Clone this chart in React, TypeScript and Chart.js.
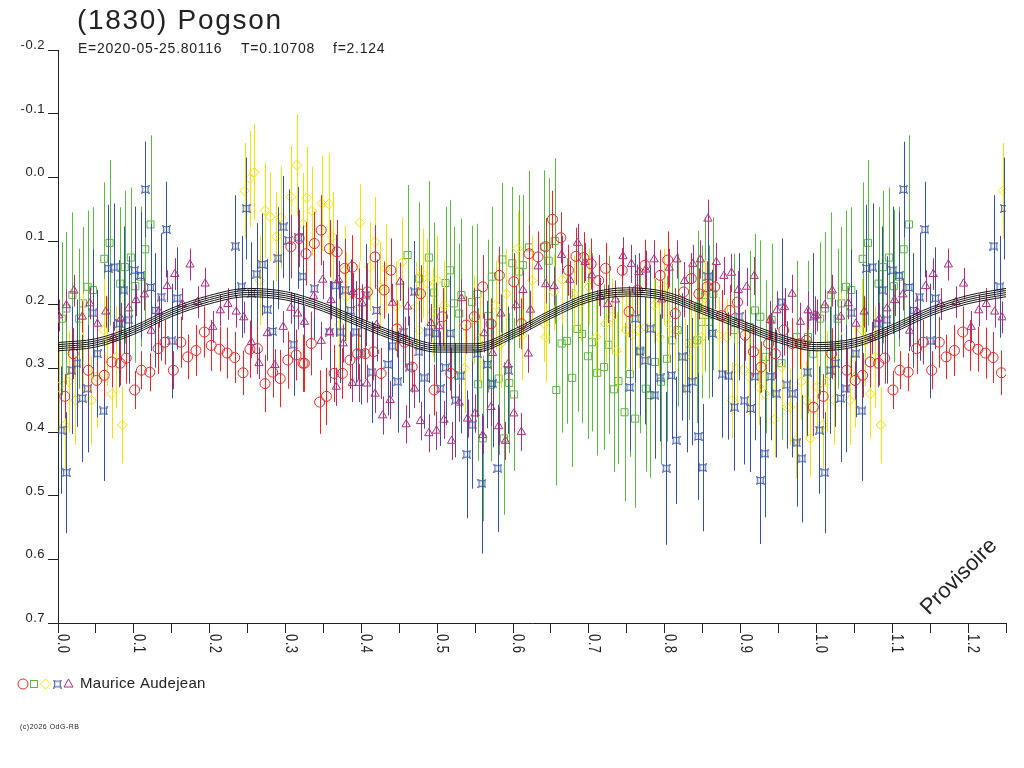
import { useEffect, useRef } from "react";
import Chart from "chart.js/auto";

// [phase, magnitude, error]
type Obs = [number, number, number];

const TITLE = "(1830) Pogson";
const SUBTITLE = ["E=2020-05-25.80116", "T=0.10708", "f=2.124"];
const OBSERVER = "Maurice Audejean";
const FOOTER = "(c)2026 OdG-RB";
const STAMP = "Provisoire";

const yTicks = [-0.2, -0.1, 0.0, 0.1, 0.2, 0.3, 0.4, 0.5, 0.6, 0.7];
const xTicks = [0.0, 0.1, 0.2, 0.3, 0.4, 0.5, 0.6, 0.7, 0.8, 0.9, 1.0, 1.1, 1.2];

const red: Obs[] = [
  [0.009, 0.344, 0.035], [0.020, 0.277, 0.04], [0.040, 0.303, 0.035], [0.051, 0.319, 0.03],
  [0.061, 0.311, 0.035], [0.071, 0.290, 0.04], [0.082, 0.292, 0.035], [0.090, 0.284, 0.04],
  [0.101, 0.334, 0.03], [0.110, 0.303, 0.03], [0.121, 0.306, 0.03], [0.132, 0.269, 0.04],
  [0.141, 0.259, 0.035], [0.152, 0.303, 0.03], [0.162, 0.259, 0.04], [0.171, 0.282, 0.035],
  [0.182, 0.272, 0.04], [0.193, 0.243, 0.04], [0.202, 0.264, 0.04], [0.213, 0.270, 0.035],
  [0.223, 0.276, 0.04], [0.233, 0.283, 0.04], [0.244, 0.307, 0.035], [0.253, 0.270, 0.045],
  [0.263, 0.269, 0.04], [0.273, 0.324, 0.045], [0.283, 0.306, 0.04], [0.293, 0.316, 0.045],
  [0.303, 0.287, 0.045], [0.314, 0.279, 0.04], [0.323, 0.292, 0.045], [0.307, 0.109, 0.05],
  [0.318, 0.096, 0.045], [0.327, 0.120, 0.05], [0.338, 0.104, 0.05], [0.347, 0.083, 0.055],
  [0.358, 0.112, 0.045], [0.368, 0.117, 0.05], [0.378, 0.143, 0.045], [0.388, 0.141, 0.05],
  [0.397, 0.183, 0.04], [0.408, 0.180, 0.045], [0.418, 0.125, 0.05], [0.325, 0.292, 0.045],
  [0.334, 0.261, 0.05], [0.345, 0.353, 0.05], [0.354, 0.344, 0.045], [0.364, 0.308, 0.045],
  [0.375, 0.308, 0.04], [0.385, 0.287, 0.045], [0.395, 0.277, 0.04], [0.405, 0.277, 0.04],
  [0.416, 0.274, 0.045], [0.426, 0.308, 0.04], [0.430, 0.177, 0.045], [0.439, 0.146, 0.05],
  [0.447, 0.238, 0.045], [0.457, 0.259, 0.04], [0.467, 0.298, 0.04], [0.478, 0.183, 0.045],
  [0.496, 0.334, 0.04], [0.507, 0.219, 0.045], [0.518, 0.308, 0.04], [0.538, 0.232, 0.045],
  [0.549, 0.219, 0.045], [0.560, 0.172, 0.05], [0.571, 0.230, 0.04], [0.582, 0.154, 0.045],
  [0.601, 0.164, 0.045], [0.611, 0.230, 0.04], [0.621, 0.120, 0.045], [0.633, 0.125, 0.04],
  [0.643, 0.109, 0.045], [0.652, 0.066, 0.045], [0.663, 0.095, 0.04], [0.673, 0.146, 0.04],
  [0.683, 0.124, 0.045], [0.693, 0.126, 0.04], [0.703, 0.136, 0.04], [0.713, 0.162, 0.04],
  [0.722, 0.143, 0.04], [0.744, 0.146, 0.035], [0.753, 0.211, 0.04], [0.764, 0.177, 0.04],
  [0.774, 0.138, 0.04], [0.794, 0.154, 0.04], [0.804, 0.130, 0.045], [0.814, 0.214, 0.04],
  [0.825, 0.180, 0.04], [0.835, 0.159, 0.04], [0.845, 0.183, 0.04], [0.856, 0.172, 0.04],
  [0.866, 0.172, 0.035], [0.875, 0.217, 0.04], [0.886, 0.209, 0.04], [0.896, 0.196, 0.04],
  [0.906, 0.248, 0.04], [0.917, 0.274, 0.04], [0.927, 0.298, 0.04], [0.937, 0.261, 0.045],
  [0.946, 0.277, 0.04], [0.957, 0.240, 0.04], [0.968, 0.261, 0.04], [0.979, 0.261, 0.04],
  [0.987, 0.256, 0.04], [0.996, 0.361, 0.045],
];

const green: Obs[] = [
  [0.005, 0.222, 0.12], [0.011, 0.206, 0.12], [0.019, 0.185, 0.13], [0.028, 0.222, 0.11],
  [0.033, 0.198, 0.12], [0.039, 0.172, 0.12], [0.046, 0.177, 0.13], [0.061, 0.128, 0.12],
  [0.068, 0.103, 0.13], [0.082, 0.167, 0.12], [0.088, 0.141, 0.12], [0.096, 0.126, 0.11],
  [0.102, 0.171, 0.12], [0.109, 0.156, 0.11], [0.115, 0.113, 0.12], [0.122, 0.074, 0.14],
  [0.461, 0.122, 0.11], [0.476, 0.159, 0.12], [0.489, 0.126, 0.12], [0.496, 0.181, 0.11],
  [0.511, 0.166, 0.12], [0.517, 0.146, 0.11], [0.522, 0.198, 0.12], [0.529, 0.214, 0.11],
  [0.532, 0.185, 0.12], [0.546, 0.196, 0.12], [0.553, 0.183, 0.11], [0.554, 0.325, 0.12],
  [0.560, 0.410, 0.13], [0.567, 0.218, 0.12], [0.571, 0.326, 0.12], [0.572, 0.156, 0.11],
  [0.581, 0.316, 0.12], [0.586, 0.129, 0.12], [0.588, 0.410, 0.12], [0.595, 0.323, 0.11],
  [0.599, 0.135, 0.12], [0.601, 0.341, 0.12], [0.608, 0.148, 0.12], [0.613, 0.138, 0.11],
  [0.621, 0.110, 0.12], [0.641, 0.109, 0.12], [0.647, 0.131, 0.13], [0.655, 0.100, 0.13],
  [0.657, 0.334, 0.15], [0.664, 0.261, 0.14], [0.671, 0.257, 0.13], [0.678, 0.315, 0.14],
  [0.685, 0.238, 0.13], [0.691, 0.246, 0.14], [0.699, 0.281, 0.13], [0.704, 0.259, 0.14],
  [0.711, 0.307, 0.13], [0.720, 0.298, 0.13], [0.726, 0.263, 0.14], [0.733, 0.333, 0.13],
  [0.739, 0.320, 0.13], [0.747, 0.369, 0.14], [0.754, 0.309, 0.13], [0.761, 0.379, 0.14],
  [0.768, 0.272, 0.13], [0.775, 0.332, 0.13], [0.781, 0.342, 0.13], [0.787, 0.290, 0.13],
  [0.795, 0.321, 0.13], [0.803, 0.285, 0.13], [0.810, 0.256, 0.12], [0.817, 0.240, 0.12],
  [0.832, 0.261, 0.12], [0.843, 0.256, 0.13], [0.844, 0.204, 0.12], [0.849, 0.227, 0.12],
  [0.853, 0.185, 0.12], [0.858, 0.227, 0.12], [0.864, 0.183, 0.12], [0.892, 0.240, 0.12],
  [0.912, 0.235, 0.12], [0.919, 0.209, 0.12], [0.926, 0.219, 0.12], [0.933, 0.282, 0.12],
  [0.941, 0.224, 0.12], [0.954, 0.292, 0.12], [0.974, 0.251, 0.12], [0.989, 0.251, 0.12],
  [0.996, 0.277, 0.12],
];

const yellow: Obs[] = [
  [0.001, 0.329, 0.07], [0.009, 0.389, 0.07], [0.014, 0.321, 0.08], [0.023, 0.350, 0.07],
  [0.033, 0.261, 0.08], [0.044, 0.350, 0.07], [0.051, 0.313, 0.08], [0.060, 0.240, 0.08],
  [0.064, 0.258, 0.07], [0.071, 0.340, 0.07], [0.077, 0.282, 0.08], [0.085, 0.389, 0.06],
  [0.246, 0.021, 0.075], [0.253, 0.002, 0.075], [0.259, -0.008, 0.075], [0.266, 0.162, 0.07],
  [0.273, 0.052, 0.075], [0.280, 0.062, 0.07], [0.288, 0.093, 0.07], [0.294, 0.063, 0.08],
  [0.307, 0.031, 0.08], [0.315, -0.019, 0.08], [0.323, 0.073, 0.08], [0.328, 0.032, 0.08],
  [0.335, 0.053, 0.07], [0.348, 0.041, 0.075], [0.357, 0.042, 0.08], [0.362, 0.093, 0.07],
  [0.371, 0.232, 0.07], [0.378, 0.146, 0.07], [0.380, 0.188, 0.07], [0.397, 0.203, 0.07],
  [0.398, 0.071, 0.06], [0.411, 0.141, 0.07], [0.418, 0.101, 0.07], [0.424, 0.172, 0.07],
  [0.432, 0.143, 0.07], [0.446, 0.203, 0.07], [0.454, 0.133, 0.07], [0.472, 0.203, 0.07],
  [0.476, 0.240, 0.07], [0.481, 0.151, 0.07], [0.487, 0.167, 0.07], [0.494, 0.211, 0.07],
  [0.500, 0.162, 0.07], [0.509, 0.201, 0.07], [0.536, 0.300, 0.07], [0.549, 0.224, 0.07],
  [0.557, 0.253, 0.07], [0.577, 0.201, 0.07], [0.584, 0.261, 0.07], [0.591, 0.183, 0.07],
  [0.606, 0.112, 0.06], [0.612, 0.248, 0.07], [0.625, 0.162, 0.07], [0.643, 0.251, 0.07],
  [0.641, 0.230, 0.06], [0.654, 0.180, 0.06], [0.665, 0.161, 0.07], [0.680, 0.183, 0.06],
  [0.689, 0.198, 0.06], [0.700, 0.172, 0.06], [0.710, 0.251, 0.06], [0.722, 0.230, 0.06],
  [0.730, 0.219, 0.06], [0.737, 0.272, 0.06], [0.744, 0.183, 0.06], [0.749, 0.240, 0.06],
  [0.757, 0.248, 0.06], [0.766, 0.240, 0.06], [0.775, 0.235, 0.06], [0.786, 0.201, 0.06],
  [0.793, 0.251, 0.06], [0.799, 0.172, 0.06], [0.805, 0.230, 0.06], [0.814, 0.243, 0.06],
  [0.827, 0.282, 0.06], [0.835, 0.261, 0.06], [0.840, 0.261, 0.06], [0.849, 0.251, 0.06],
  [0.853, 0.190, 0.06], [0.871, 0.248, 0.06], [0.882, 0.251, 0.06], [0.889, 0.350, 0.06],
  [0.895, 0.300, 0.06], [0.904, 0.302, 0.06], [0.911, 0.313, 0.06], [0.924, 0.329, 0.06],
  [0.932, 0.340, 0.06], [0.945, 0.380, 0.06], [0.954, 0.298, 0.06], [0.961, 0.361, 0.06],
  [0.965, 0.361, 0.06], [0.973, 0.413, 0.06], [0.980, 0.321, 0.06], [0.986, 0.350, 0.06],
  [0.992, 0.410, 0.06],
];

const blue: Obs[] = [
  [0.004, 0.397, 0.1], [0.011, 0.464, 0.095], [0.018, 0.303, 0.1], [0.025, 0.292, 0.1],
  [0.032, 0.347, 0.1], [0.039, 0.332, 0.1], [0.046, 0.213, 0.1], [0.052, 0.277, 0.1],
  [0.060, 0.367, 0.11], [0.066, 0.143, 0.1], [0.074, 0.141, 0.1], [0.081, 0.230, 0.1],
  [0.087, 0.177, 0.1], [0.093, 0.224, 0.1], [0.101, 0.146, 0.1], [0.109, 0.154, 0.1],
  [0.115, 0.019, 0.075], [0.122, 0.173, 0.1], [0.128, 0.209, 0.09], [0.136, 0.188, 0.1],
  [0.143, 0.082, 0.075], [0.150, 0.257, 0.09], [0.157, 0.190, 0.08], [0.234, 0.108, 0.08],
  [0.242, 0.172, 0.08], [0.248, 0.049, 0.08], [0.255, 0.182, 0.08], [0.262, 0.152, 0.08],
  [0.269, 0.137, 0.08], [0.276, 0.208, 0.08], [0.283, 0.242, 0.08], [0.290, 0.127, 0.08],
  [0.297, 0.078, 0.08], [0.304, 0.099, 0.08], [0.311, 0.263, 0.08], [0.317, 0.095, 0.08],
  [0.323, 0.156, 0.08], [0.338, 0.175, 0.08], [0.358, 0.243, 0.08], [0.366, 0.170, 0.08],
  [0.372, 0.243, 0.08], [0.379, 0.177, 0.08], [0.386, 0.209, 0.08], [0.393, 0.243, 0.08],
  [0.400, 0.277, 0.08], [0.406, 0.185, 0.08], [0.414, 0.306, 0.08], [0.420, 0.209, 0.08],
  [0.435, 0.294, 0.08], [0.441, 0.265, 0.08], [0.448, 0.321, 0.08], [0.455, 0.243, 0.08],
  [0.463, 0.298, 0.08], [0.470, 0.180, 0.08], [0.476, 0.274, 0.08], [0.483, 0.315, 0.08],
  [0.489, 0.243, 0.08], [0.498, 0.245, 0.08], [0.504, 0.332, 0.09], [0.511, 0.299, 0.09],
  [0.517, 0.245, 0.09], [0.524, 0.350, 0.09], [0.531, 0.312, 0.09], [0.539, 0.435, 0.1],
  [0.546, 0.389, 0.1], [0.553, 0.277, 0.1], [0.559, 0.481, 0.11], [0.566, 0.294, 0.1],
  [0.573, 0.324, 0.1], [0.580, 0.457, 0.1], [0.594, 0.303, 0.1], [0.754, 0.330, 0.1],
  [0.761, 0.222, 0.1], [0.767, 0.274, 0.1], [0.774, 0.288, 0.1], [0.781, 0.238, 0.1],
  [0.787, 0.342, 0.1], [0.794, 0.315, 0.1], [0.802, 0.457, 0.12], [0.809, 0.311, 0.1],
  [0.815, 0.413, 0.1], [0.823, 0.282, 0.1], [0.829, 0.332, 0.1], [0.836, 0.321, 0.1],
  [0.844, 0.407, 0.1], [0.850, 0.456, 0.1], [0.857, 0.156, 0.1], [0.863, 0.245, 0.1],
  [0.876, 0.309, 0.1], [0.884, 0.312, 0.1], [0.892, 0.361, 0.1], [0.898, 0.219, 0.1],
  [0.905, 0.351, 0.1], [0.913, 0.363, 0.1], [0.919, 0.313, 0.1], [0.926, 0.476, 0.1],
  [0.932, 0.434, 0.1], [0.940, 0.313, 0.1], [0.947, 0.340, 0.1], [0.954, 0.196, 0.1],
  [0.961, 0.326, 0.1], [0.968, 0.340, 0.1], [0.974, 0.417, 0.1], [0.981, 0.442, 0.1],
  [0.988, 0.306, 0.1], [0.996, 0.219, 0.1],
];

const purple: Obs[] = [
  [0.001, 0.217, 0.025], [0.011, 0.201, 0.025], [0.021, 0.178, 0.025], [0.032, 0.219, 0.025],
  [0.042, 0.198, 0.025], [0.052, 0.230, 0.025], [0.063, 0.211, 0.025], [0.073, 0.252, 0.025],
  [0.083, 0.222, 0.025], [0.093, 0.206, 0.025], [0.103, 0.193, 0.025], [0.114, 0.184, 0.025],
  [0.123, 0.241, 0.025], [0.133, 0.211, 0.025], [0.144, 0.171, 0.025], [0.154, 0.152, 0.025],
  [0.164, 0.199, 0.025], [0.174, 0.137, 0.025], [0.184, 0.196, 0.025], [0.194, 0.167, 0.025],
  [0.204, 0.235, 0.025], [0.214, 0.209, 0.025], [0.224, 0.199, 0.025], [0.235, 0.211, 0.025],
  [0.245, 0.220, 0.025], [0.255, 0.259, 0.025], [0.265, 0.292, 0.025], [0.276, 0.245, 0.025],
  [0.286, 0.295, 0.025], [0.297, 0.235, 0.025], [0.307, 0.205, 0.025], [0.316, 0.214, 0.025],
  [0.325, 0.227, 0.025], [0.337, 0.187, 0.03], [0.347, 0.257, 0.03], [0.349, 0.161, 0.03],
  [0.358, 0.243, 0.03], [0.360, 0.193, 0.03], [0.367, 0.329, 0.03], [0.370, 0.161, 0.03],
  [0.376, 0.261, 0.03], [0.388, 0.323, 0.03], [0.389, 0.180, 0.03], [0.397, 0.323, 0.03],
  [0.401, 0.198, 0.03], [0.407, 0.324, 0.03], [0.418, 0.340, 0.03], [0.420, 0.232, 0.03],
  [0.428, 0.374, 0.03], [0.438, 0.350, 0.03], [0.441, 0.197, 0.03], [0.451, 0.164, 0.03],
  [0.459, 0.388, 0.03], [0.461, 0.203, 0.03], [0.470, 0.332, 0.03], [0.478, 0.383, 0.03],
  [0.489, 0.402, 0.03], [0.492, 0.229, 0.03], [0.499, 0.398, 0.03], [0.502, 0.234, 0.03],
  [0.509, 0.381, 0.03], [0.519, 0.414, 0.03], [0.529, 0.354, 0.03], [0.532, 0.190, 0.03],
  [0.540, 0.379, 0.03], [0.550, 0.371, 0.03], [0.560, 0.405, 0.03], [0.562, 0.245, 0.03],
  [0.571, 0.361, 0.03], [0.573, 0.276, 0.03], [0.581, 0.391, 0.03], [0.584, 0.214, 0.03],
  [0.590, 0.414, 0.03], [0.593, 0.294, 0.03], [0.601, 0.371, 0.03], [0.604, 0.201, 0.03],
  [0.611, 0.400, 0.03], [0.613, 0.177, 0.03], [0.620, 0.277, 0.03], [0.623, 0.208, 0.03],
  [0.633, 0.140, 0.03], [0.643, 0.168, 0.03], [0.654, 0.171, 0.03], [0.664, 0.122, 0.03],
  [0.675, 0.161, 0.03], [0.685, 0.103, 0.03], [0.695, 0.133, 0.03], [0.704, 0.154, 0.03],
  [0.715, 0.188, 0.03], [0.725, 0.199, 0.03], [0.735, 0.192, 0.03], [0.745, 0.124, 0.03],
  [0.756, 0.136, 0.03], [0.766, 0.149, 0.03], [0.775, 0.145, 0.03], [0.786, 0.129, 0.03],
  [0.796, 0.192, 0.03], [0.806, 0.142, 0.03], [0.816, 0.129, 0.03], [0.826, 0.163, 0.03],
  [0.837, 0.136, 0.03], [0.847, 0.129, 0.03], [0.857, 0.065, 0.03], [0.868, 0.133, 0.03],
  [0.878, 0.155, 0.03], [0.888, 0.150, 0.03], [0.897, 0.177, 0.03], [0.908, 0.172, 0.03],
  [0.918, 0.155, 0.03], [0.939, 0.224, 0.03], [0.948, 0.209, 0.03], [0.958, 0.204, 0.03],
  [0.968, 0.183, 0.03], [0.979, 0.227, 0.03], [0.989, 0.209, 0.03], [0.998, 0.217, 0.03],
];

// fitted light curve, read every 0.05 in phase
const fitPhase = [
  0.0, 0.05, 0.1, 0.15, 0.2, 0.25, 0.3, 0.35, 0.4, 0.45, 0.5, 0.55, 0.6,
  0.65, 0.7, 0.75, 0.8, 0.85, 0.9, 0.95, 1.0, 1.05, 1.1, 1.15, 1.2, 1.25,
];
const fitMag = [
  0.266, 0.260, 0.240, 0.212, 0.192, 0.181, 0.186, 0.204, 0.229, 0.252, 0.268, 0.268, 0.246,
  0.215, 0.189, 0.180, 0.186, 0.208, 0.231, 0.253, 0.266, 0.260, 0.238, 0.211, 0.192, 0.181,
];
const fitOffsets = [-0.0065, -0.0032, 0, 0.0032, 0.0065];

const X_MAX = 1.25;

// points before X_MAX - 1 are shown a second time one cycle later
function fold(obs: Obs[]): Obs[] {
  const extra = obs.filter((o) => o[0] + 1 <= X_MAX).map((o) => [o[0] + 1, o[1], o[2]] as Obs);
  return [...obs, ...extra];
}

function makeStar(color: string) {
  const c = document.createElement("canvas");
  c.width = 9;
  c.height = 9;
  const g = c.getContext("2d")!;
  g.strokeStyle = color;
  g.lineWidth = 1;
  g.beginPath();
  const pts = [
    [0.5, 0.5], [3, 1.8], [6, 1.8], [8.5, 0.5], [7.2, 3], [7.2, 6], [8.5, 8.5],
    [6, 7.2], [3, 7.2], [0.5, 8.5], [1.8, 6], [1.8, 3],
  ];
  pts.forEach(([x, y], i) => (i ? g.lineTo(x, y) : g.moveTo(x, y)));
  g.closePath();
  g.stroke();
  return c;
}

const FONT = "'Liberation Sans', Arial, sans-serif";

export default function App() {
  const ref = useRef<HTMLCanvasElement | null>(null);
  const chartRef = useRef<Chart | null>(null);

  useEffect(() => {
    document.body.style.margin = "0";
    if (!ref.current) return;
    chartRef.current?.destroy();
    const ctx = ref.current.getContext("2d");
    if (!ctx) return;

    const star = makeStar("#3550a8");
    const series = [
      { name: "red", color: "#ee2424", style: "circle" as any, r: 5, data: red, order: 2 },
      { name: "green", color: "#5cb842", style: "rect" as any, r: 5, data: green, order: 5 },
      { name: "yellow", color: "#f6e000", style: "rectRot" as any, r: 4.8, data: yellow, order: 4 },
      { name: "blue", color: "#3550a8", style: star as any, r: 4.5, data: blue, order: 3 },
      { name: "purple", color: "#b02c80", style: "triangle" as any, r: 4.8, data: purple, order: 1 },
    ];

    const obsSets = series.map((s) => {
      const all = fold(s.data);
      return {
        label: s.name,
        data: all.map((o) => ({ x: o[0], y: o[1] })),
        errs: all.map((o) => o[2]),
        borderColor: s.color,
        backgroundColor: "rgba(0,0,0,0)",
        pointStyle: s.style,
        pointRadius: s.r,
        pointHoverRadius: s.r,
        pointBorderWidth: 1,
        showLine: false,
        order: s.order,
      };
    });

    const fitSets = fitOffsets.map((off) => ({
      label: "fit",
      data: fitPhase.map((p, i) => ({ x: p, y: fitMag[i] + off })),
      borderColor: "#151515",
      borderWidth: 1,
      pointRadius: 0,
      showLine: true,
      cubicInterpolationMode: "monotone" as const,
      order: 0,
    }));

    // vertical error bars drawn just before each series' markers
    const errorBars = {
      id: "errorBars",
      beforeDatasetDraw(chart: any, args: any) {
        const ds = chart.data.datasets[args.index];
        if (!ds.errs) return;
        const { ctx, scales } = chart;
        ctx.save();
        ctx.strokeStyle = ds.borderColor;
        ctx.lineWidth = 1;
        ctx.beginPath();
        ds.data.forEach((p: any, i: number) => {
          const px = Math.round(scales.x.getPixelForValue(p.x)) + 0.5;
          ctx.moveTo(px, scales.y.getPixelForValue(p.y - ds.errs[i]));
          ctx.lineTo(px, scales.y.getPixelForValue(p.y + ds.errs[i]));
        });
        ctx.stroke();
        ctx.restore();
      },
    };

    const decorations = {
      id: "decorations",
      afterDraw(chart: any) {
        const { ctx, scales } = chart;
        ctx.save();
        ctx.fillStyle = "#222";

        // title and elements
        ctx.font = `28px ${FONT}`;
        ctx.letterSpacing = "1.7px";
        ctx.textAlign = "left";
        ctx.textBaseline = "alphabetic";
        ctx.fillText(TITLE, 77, 28.5);
        ctx.font = `14px ${FONT}`;
        ctx.letterSpacing = "0.75px";
        ctx.fillText(SUBTITLE[0], 78, 53);
        ctx.fillText(SUBTITLE[1], 241, 53);
        ctx.fillText(SUBTITLE[2], 333, 53);

        // y tick labels, set just above their ticks
        ctx.font = `13px ${FONT}`;
        ctx.letterSpacing = "0.5px";
        ctx.textAlign = "right";
        yTicks.forEach((v) => ctx.fillText(v.toFixed(1), 45, scales.y.getPixelForValue(v) - 1));

        // x tick labels, turned a quarter clockwise
        ctx.textAlign = "left";
        xTicks.forEach((v) => {
          ctx.save();
          ctx.translate(Math.round(scales.x.getPixelForValue(v)), 634);
          ctx.rotate(Math.PI / 2);
          ctx.scale(1, 1.3);
          ctx.fillText(v.toFixed(1), 0, 0);
          ctx.restore();
        });

        // stamp
        ctx.save();
        ctx.font = `22px ${FONT}`;
        ctx.letterSpacing = "0px";
        ctx.textAlign = "center";
        ctx.textBaseline = "middle";
        ctx.translate(959, 577);
        ctx.rotate(-Math.PI / 4);
        ctx.fillText(STAMP, 0, 0);
        ctx.restore();

        // legend
        const ly = 684;
        ctx.lineWidth = 1;
        ctx.strokeStyle = series[0].color;
        ctx.beginPath();
        ctx.arc(23, ly, 5, 0, Math.PI * 2);
        ctx.stroke();
        ctx.strokeStyle = series[1].color;
        ctx.strokeRect(30.5, ly - 3.5, 7, 7);
        ctx.strokeStyle = series[2].color;
        ctx.beginPath();
        ctx.moveTo(45.5, ly - 5);
        ctx.lineTo(50.5, ly);
        ctx.lineTo(45.5, ly + 5);
        ctx.lineTo(40.5, ly);
        ctx.closePath();
        ctx.stroke();
        ctx.drawImage(star, 53, ly - 4.5);
        ctx.strokeStyle = series[4].color;
        ctx.beginPath();
        ctx.moveTo(68.5, ly - 5);
        ctx.lineTo(73, ly + 3);
        ctx.lineTo(64, ly + 3);
        ctx.closePath();
        ctx.stroke();

        ctx.fillStyle = "#222";
        ctx.font = `15px ${FONT}`;
        ctx.letterSpacing = "0.3px";
        ctx.textAlign = "left";
        ctx.textBaseline = "alphabetic";
        ctx.fillText(OBSERVER, 80, 688);

        ctx.font = `7px ${FONT}`;
        ctx.letterSpacing = "0.5px";
        ctx.fillText(FOOTER, 20, 729);
        ctx.restore();
      },
    };

    chartRef.current = new Chart(ctx, {
      type: "scatter",
      data: { datasets: [...obsSets, ...fitSets] as any },
      options: {
        animation: false,
        responsive: false,
        devicePixelRatio: 1,
        events: [],
        layout: { padding: { top: 50, right: 18, left: 0, bottom: 0 } },
        plugins: {
          legend: { display: false },
          tooltip: { enabled: false },
          title: { display: false },
        },
        scales: {
          x: {
            type: "linear",
            min: 0,
            max: X_MAX,
            ticks: { stepSize: 0.05, display: false, autoSkip: false },
            grid: { drawOnChartArea: false, drawTicks: true, tickLength: 10, color: "#222" },
            border: { display: true, color: "#222" },
            afterFit: (s: any) => {
              s.height = 145;
            },
          },
          y: {
            type: "linear",
            reverse: true,
            min: -0.2,
            max: 0.7,
            ticks: { stepSize: 0.1, display: false },
            grid: { drawOnChartArea: false, drawTicks: true, tickLength: 10, color: "#222" },
            border: { display: true, color: "#222" },
            afterFit: (s: any) => {
              s.width = 58;
            },
          },
        },
      },
      plugins: [errorBars, decorations],
    });

    return () => chartRef.current?.destroy();
  }, []);

  return (
    <div style={{ width: 1024, height: 768 }}>
      <canvas ref={ref} width={1024} height={768} style={{ display: "block" }} />
    </div>
  );
}
